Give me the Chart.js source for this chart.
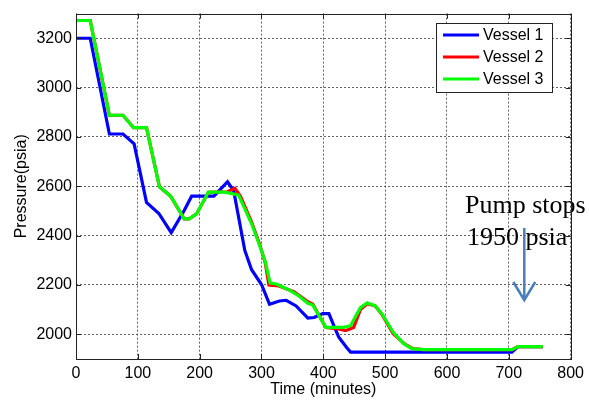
<!DOCTYPE html>
<html>
<head>
<meta charset="utf-8">
<script src="https://cdn.jsdelivr.net/npm/chart.js@4.4.1/dist/chart.umd.min.js"></script>
<style>
  html, body { margin: 0; padding: 0; background: #fff; }
  #wrap { width: 589px; height: 403px; position: relative; }
</style>
</head>
<body>
<div id="wrap"><canvas id="c" width="589" height="403"></canvas></div>
<script>
// Pressure history of three vessels (time in minutes, pressure in psia)
const v1Time = [0, 23, 54, 76, 94, 114, 134, 154, 175, 187, 223, 245, 255, 273, 284, 300, 313, 329, 340, 356, 375, 385, 399, 409, 417, 425, 438, 444, 705, 715, 755];
const v1Pressure = [3200, 3200, 2812, 2812, 2772, 2535, 2490, 2412, 2502, 2560, 2560, 2618, 2582, 2340, 2262, 2202, 2122, 2135, 2138, 2115, 2066, 2068, 2084, 2084, 2035, 1988, 1946, 1928, 1928, 1950, 1950];

const v2Time = [0, 23, 54, 76, 93, 114, 135, 153, 175, 183, 195, 214, 245, 257, 266, 284, 297, 306, 312, 328, 337, 353, 375, 383, 404, 425, 436, 449, 460, 471, 484, 495, 513, 532, 545, 562, 705, 715, 755];
const v2Pressure = [3272, 3272, 2888, 2888, 2838, 2838, 2598, 2560, 2468, 2468, 2488, 2576, 2578, 2592, 2560, 2455, 2365, 2290, 2200, 2196, 2188, 2172, 2132, 2122, 2028, 2022, 2015, 2028, 2100, 2124, 2115, 2080, 2002, 1960, 1942, 1938, 1938, 1950, 1950];

const v3Time = [0, 23, 54, 76, 93, 114, 135, 153, 175, 183, 195, 214, 241, 263, 284, 297, 306, 314, 324, 343, 359, 375, 383, 404, 433, 444, 460, 471, 484, 495, 513, 530, 543, 562, 705, 715, 755];
const v3Pressure = [3272, 3272, 2888, 2888, 2838, 2838, 2598, 2560, 2468, 2468, 2488, 2576, 2576, 2564, 2448, 2360, 2295, 2208, 2204, 2182, 2158, 2126, 2119, 2028, 2028, 2035, 2108, 2128, 2115, 2082, 2008, 1962, 1942, 1938, 1938, 1950, 1950];

const seriesNames = ['Vessel 1', 'Vessel 2', 'Vessel 3'];
const seriesColors = ['#0000ff', '#ff0000', '#00ff00'];

const xTicks = [0, 100, 200, 300, 400, 500, 600, 700, 800];
const yTicks = [2000, 2200, 2400, 2600, 2800, 3000, 3200];

const noteLines = ['Pump stops', '1950 psia'];

const toPoints = (t, p) => t.map((x, i) => ({ x: x, y: p[i] }));

const SANS = '"Liberation Sans", Arial, sans-serif';
const SERIF = '"Liberation Serif", "Times New Roman", serif';

// Box, inward tick marks, legend and the pump annotation
const decorations = {
  id: 'decorations',
  afterDatasetsDraw(chart) {
    const { ctx, chartArea: a, scales } = chart;
    const xs = scales.x, ys = scales.y;
    ctx.save();

    // annotation text
    ctx.fillStyle = '#000';
    ctx.font = '26px ' + SERIF;
    ctx.textBaseline = 'alphabetic';
    ctx.textAlign = 'left';
    ctx.fillText(noteLines[0], 465, 213);
    ctx.fillText(noteLines[1], 467, 245);

    // arrow pointing down at the pump-stop time
    const ax = xs.getPixelForValue(725);
    ctx.strokeStyle = '#4a7ebb';
    ctx.lineWidth = 2.5;
    ctx.lineCap = 'butt';
    ctx.beginPath();
    ctx.moveTo(ax, 228);
    ctx.lineTo(ax, 300);
    ctx.stroke();
    ctx.beginPath();
    ctx.moveTo(ax - 11, 282);
    ctx.lineTo(ax, 300);
    ctx.lineTo(ax + 11, 282);
    ctx.stroke();

    // plot box
    ctx.strokeStyle = '#222';
    ctx.lineWidth = 1;
    ctx.strokeRect(Math.round(a.left) + 0.5, Math.round(a.top) + 0.5,
                   Math.round(a.right - a.left), Math.round(a.bottom - a.top));

    // tick marks pointing into the plot, on all four sides
    const tl = 5;
    ctx.beginPath();
    xTicks.forEach(v => {
      const px = Math.round(xs.getPixelForValue(v)) + 0.5;
      ctx.moveTo(px, a.bottom); ctx.lineTo(px, a.bottom - tl);
      ctx.moveTo(px, a.top); ctx.lineTo(px, a.top + tl);
    });
    yTicks.forEach(v => {
      const py = Math.round(ys.getPixelForValue(v)) + 0.5;
      ctx.moveTo(a.left, py); ctx.lineTo(a.left + tl, py);
      ctx.moveTo(a.right, py); ctx.lineTo(a.right - tl, py);
    });
    ctx.stroke();

    // legend
    const lx = 436, ly = 23, lw = 116, lh = 69;
    ctx.fillStyle = '#fff';
    ctx.fillRect(lx, ly, lw, lh);
    ctx.strokeStyle = '#222';
    ctx.lineWidth = 1;
    ctx.strokeRect(lx + 0.5, ly + 0.5, lw, lh);
    ctx.font = '16px ' + SANS;
    ctx.textBaseline = 'middle';
    ctx.textAlign = 'left';
    seriesNames.forEach((name, i) => {
      const y = ly + 12 + i * 22;
      ctx.strokeStyle = seriesColors[i];
      ctx.lineWidth = 3;
      ctx.beginPath();
      ctx.moveTo(443, y);
      ctx.lineTo(479, y);
      ctx.stroke();
      ctx.fillStyle = '#000';
      ctx.fillText(name, 483, y + 1);
    });

    ctx.restore();
  }
};

const seriesData = [
  toPoints(v1Time, v1Pressure),
  toPoints(v2Time, v2Pressure),
  toPoints(v3Time, v3Pressure)
];

new Chart(document.getElementById('c'), {
  type: 'line',
  data: {
    datasets: seriesNames.map((name, i) => ({
      label: name,
      data: seriesData[i],
      borderColor: seriesColors[i],
      backgroundColor: seriesColors[i],
      borderWidth: 3.2,
      pointRadius: 0,
      tension: 0,
      fill: false,
      order: 3 - i
    }))
  },
  options: {
    responsive: false,
    animation: false,
    devicePixelRatio: 1,
    layout: { padding: { left: 0, top: 10, right: 13, bottom: 0 } },
    plugins: { legend: { display: false }, tooltip: { enabled: false } },
    scales: {
      x: {
        type: 'linear',
        min: 0,
        max: 800,
        afterBuildTicks: s => { s.ticks = xTicks.map(v => ({ value: v })); },
        afterFit: s => { s.height = 44; },
        grid: { color: 'rgba(70,70,70,0.85)', lineWidth: 1, drawTicks: false },
        border: { display: false, dash: [2, 2] },
        ticks: { padding: 5, color: '#000', font: { family: SANS, size: 16 }, maxRotation: 0, callback: v => String(v) },
        title: { display: true, text: 'Time (minutes)', color: '#000', font: { family: SANS, size: 16 }, padding: { top: 0, bottom: 4 } }
      },
      y: {
        type: 'linear',
        min: 1900,
        max: 3300,
        afterBuildTicks: s => { s.ticks = yTicks.map(v => ({ value: v })); },
        afterFit: s => { s.width = 76; },
        grid: { color: 'rgba(70,70,70,0.85)', lineWidth: 1, drawTicks: false },
        border: { display: false, dash: [2, 2] },
        ticks: { padding: 4, color: '#000', font: { family: SANS, size: 16 }, callback: v => String(v) },
        title: { display: true, text: 'Pressure(psia)', color: '#000', font: { family: SANS, size: 16 }, padding: { top: 12, bottom: 0 } }
      }
    }
  },
  plugins: [decorations]
});
</script>
</body>
</html>
